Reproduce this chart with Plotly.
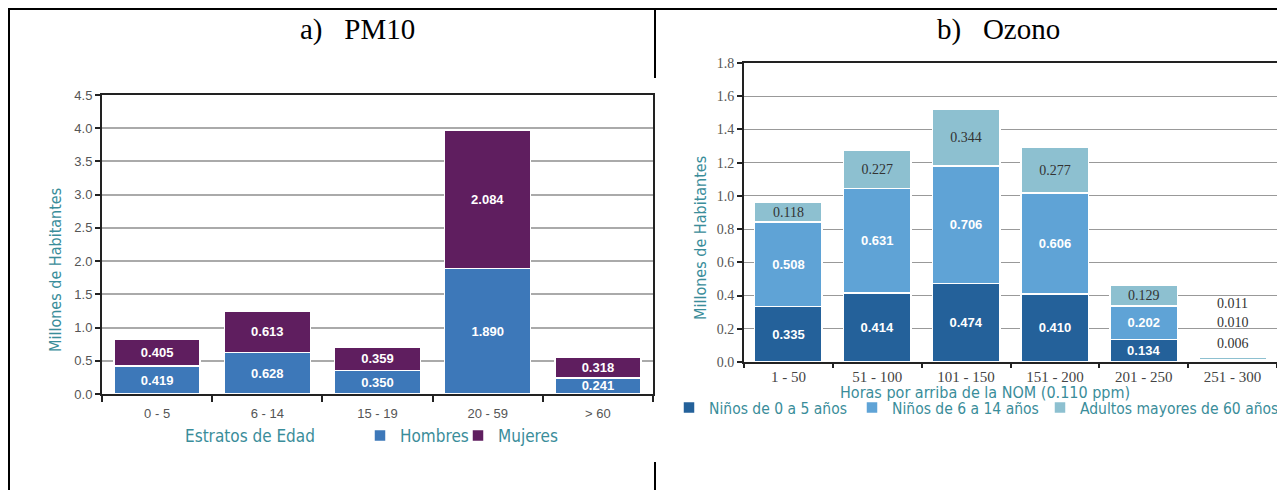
import plotly.graph_objects as go

W, H = 1277, 490

# ---- Data: a) PM10 ----
pm_cats = ["0 - 5", "6 - 14", "15 - 19", "20 - 59", "> 60"]
pm_hombres = [0.419, 0.628, 0.350, 1.890, 0.241]
pm_mujeres = [0.405, 0.613, 0.359, 2.084, 0.318]

# ---- Data: b) Ozono ----
oz_cats = ["1 - 50", "51 - 100", "101 - 150", "151 - 200", "201 - 250", "251 - 300"]
oz_ninos05 = [0.335, 0.414, 0.474, 0.410, 0.134, 0.006]
oz_ninos614 = [0.508, 0.631, 0.706, 0.606, 0.202, 0.010]
oz_adultos = [0.118, 0.227, 0.344, 0.277, 0.129, 0.011]

TEAL = "#3a8d9a"
C_H, C_M = "#3d78b9", "#5f1e5f"
C_D, C_MB, C_L = "#24619a", "#5fa3d6", "#8dc0d0"
SANS = "Liberation Sans"
NARROW = "Liberation Sans Narrow, DejaVu Sans Condensed, Liberation Sans"
SERIF = "Liberation Serif"


def px(x):
    return x / W


def py(y):
    return 1 - y / H


def fmt(v):
    return f"{v:.3f}"


fig = go.Figure()

lab_font = dict(color="white", size=13, family=SANS, weight="bold")

# Left chart
fig.add_trace(go.Bar(
    x=pm_cats, y=pm_hombres, name="Hombres", marker=dict(color=C_H, line=dict(color="white", width=1.5)),
    text=[fmt(v) for v in pm_hombres], textposition="inside", insidetextanchor="middle",
    textfont=lab_font, constraintext="none", textangle=0,
    xaxis="x", yaxis="y", legend="legend", width=0.78))
fig.add_trace(go.Bar(
    x=pm_cats, y=pm_mujeres, name="Mujeres", marker=dict(color=C_M, line=dict(color="white", width=1.5)),
    text=[fmt(v) for v in pm_mujeres], textposition="inside", insidetextanchor="middle",
    textfont=lab_font, constraintext="none", textangle=0,
    xaxis="x", yaxis="y", legend="legend2", width=0.78))

# Right chart
last = len(oz_cats) - 1


def labels(vals):
    return [fmt(v) if i != last else "" for i, v in enumerate(vals)]


fig.add_trace(go.Bar(
    x=oz_cats, y=oz_ninos05, name="Niños de 0 a 5 años", marker=dict(color=C_D, line=dict(color="white", width=1.5)),
    text=labels(oz_ninos05), textposition="inside", insidetextanchor="middle",
    textfont=lab_font, constraintext="none", textangle=0,
    xaxis="x2", yaxis="y2", legend="legend3", width=0.76))
fig.add_trace(go.Bar(
    x=oz_cats, y=oz_ninos614, name="Niños de 6 a 14 años", marker=dict(color=C_MB, line=dict(color="white", width=1.5)),
    text=labels(oz_ninos614), textposition="inside", insidetextanchor="middle",
    textfont=lab_font, constraintext="none", textangle=0,
    xaxis="x2", yaxis="y2", legend="legend4", width=0.76))
fig.add_trace(go.Bar(
    x=oz_cats, y=oz_adultos, name="Adultos mayores de 60 años", marker=dict(color=C_L, line=dict(color="white", width=1.5)),
    text=labels(oz_adultos), textposition="inside", insidetextanchor="middle",
    textfont=dict(color="#333333", size=14, family=SERIF), constraintext="none", textangle=0,
    xaxis="x2", yaxis="y2", legend="legend5", width=0.76))

annotations = []
# labels for the tiny last group, stacked above the bar
for val, yoff in [(oz_ninos05[last], 0.114), (oz_ninos614[last], 0.24), (oz_adultos[last], 0.355)]:
    annotations.append(dict(x=oz_cats[last], y=yoff, xref="x2", yref="y2", text=fmt(val), showarrow=False,
                            xanchor="center", yanchor="middle",
                            font=dict(family=SERIF, size=14, color="#333333")))


def pann(x, y, text, font, angle=0):
    return dict(x=px(x), y=py(y), xref="paper", yref="paper", text=text, showarrow=False,
                xanchor="center", yanchor="middle", textangle=angle, font=font)


NB = "&nbsp;"
annotations += [
    pann(357, 30, "a)" + NB * 3 + "PM10", dict(family=SERIF, size=29, color="black")),
    pann(998, 30, "b)" + NB * 3 + "Ozono", dict(family=SERIF, size=29, color="black")),
    pann(250, 436, "Estratos de Edad", dict(family=NARROW, size=17, color=TEAL)),
    pann(985, 392, "Horas por arriba de la NOM (0.110 ppm)", dict(family=NARROW, size=16, color=TEAL)),
    pann(55, 270, "Millones de Habitantes", dict(family=NARROW, size=16, color=TEAL), -90),
    pann(700, 238, "Millones de Habitantes", dict(family=NARROW, size=16, color=TEAL), -90),
]

shapes = [
    dict(type="line", xref="paper", yref="paper", x0=px(8), x1=1, y0=py(9), y1=py(9), line=dict(color="black", width=2)),
    dict(type="line", xref="paper", yref="paper", x0=px(9), x1=px(9), y0=py(9), y1=0, line=dict(color="black", width=2)),
    dict(type="line", xref="paper", yref="paper", x0=px(655), x1=px(655), y0=py(9), y1=py(78), line=dict(color="black", width=2)),
    dict(type="line", xref="paper", yref="paper", x0=px(655), x1=px(655), y0=py(462), y1=0, line=dict(color="black", width=2)),
]

axis_common = dict(showline=True, linecolor="#222222", linewidth=2, mirror=True, automargin=False)


def leg(x, y, size):
    return dict(orientation="h", x=px(x), y=py(y), xanchor="left", yanchor="middle",
                font=dict(family=NARROW, size=size, color=TEAL), bgcolor="rgba(0,0,0,0)",
                itemwidth=30)


fig.update_layout(
    width=W, height=H, margin=dict(l=0, r=0, t=0, b=0, autoexpand=False),
    paper_bgcolor="white", plot_bgcolor="white",
    barmode="stack",
    showlegend=True,
    xaxis=dict(domain=[px(102), px(653)], anchor="y", ticks="outside", tickson="boundaries", ticklen=6,
               tickwidth=2, tickcolor="#222222", ticklabelstandoff=6,
               tickfont=dict(family=SANS, size=13, color="#555555"), **axis_common),
    yaxis=dict(domain=[py(394), py(95)], anchor="x", range=[0, 4.5], dtick=0.5, tickformat=".1f",
               ticks="outside", ticklen=5, tickwidth=1.5, tickcolor="#222222",
               gridcolor="#aaaaaa", gridwidth=1.5, zeroline=False,
               tickfont=dict(family=SANS, size=13, color="#555555"), **axis_common),
    xaxis2=dict(domain=[px(744), 1.0], anchor="y2", ticks="outside", tickson="boundaries", ticklen=4,
                tickwidth=2, tickcolor="#222222", ticklabelstandoff=0,
                tickfont=dict(family=SERIF, size=15, color="#444444"), **axis_common),
    yaxis2=dict(domain=[py(362), py(63)], anchor="x2", range=[0, 1.8], dtick=0.2, tickformat=".1f",
                ticks="outside", ticklen=5, tickwidth=1.5, tickcolor="#222222",
                gridcolor="#999999", gridwidth=1.2, zeroline=False,
                tickfont=dict(family=SERIF, size=14, color="#555555"), **axis_common),
    legend=leg(360, 436, 17),
    legend2=leg(458, 436, 17),
    legend3=leg(669, 408, 15.5),
    legend4=leg(852, 408, 15.5),
    legend5=leg(1040, 408, 15.5),
    annotations=annotations, shapes=shapes,
)

fig.write_html("out.html", config={"displayModeBar": False},
               post_script="document.body.style.margin='0px';")
